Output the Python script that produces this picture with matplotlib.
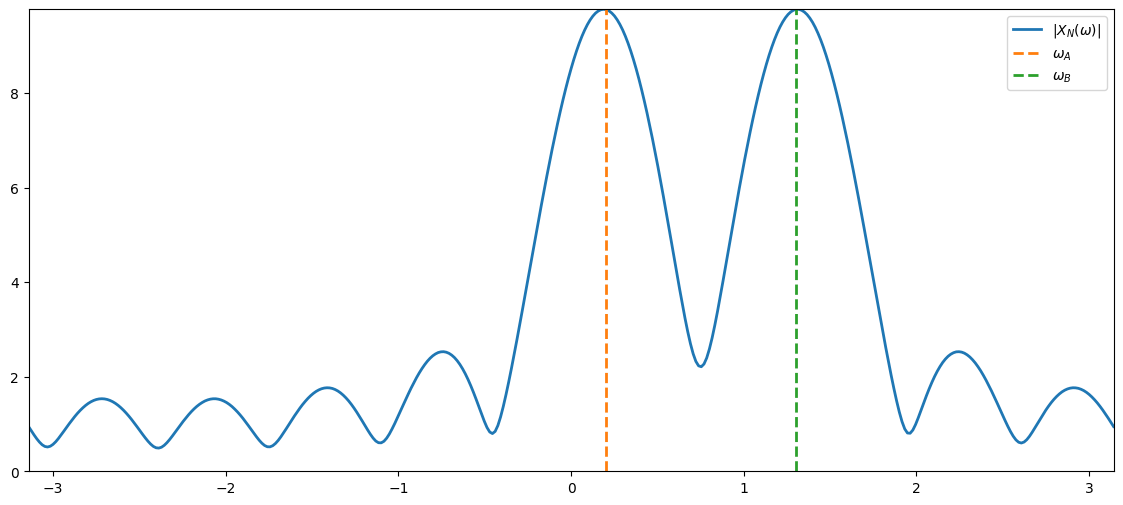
import numpy as np
import matplotlib
matplotlib.use("Agg")
import matplotlib.pyplot as plt

# Marker frequencies
omega_a = 0.2
omega_b = 1.3

# |X_N(omega)| in thousandths, read on an evenly spaced grid over [-pi, pi] (401 samples)
magnitude_milli = [
    946,857,770,689,618,561,525,514,530,569,625,694,770,849,929,1008,1084,1157,1225,1287,
    1343,1393,1436,1471,1499,1519,1531,1535,1531,1519,1499,1472,1437,1395,1346,1291,1230,1164,1093,1018,
    941,862,784,708,637,575,526,497,491,509,549,605,672,746,824,902,981,1057,1129,1198,
    1262,1320,1372,1417,1455,1487,1510,1526,1534,1534,1525,1509,1485,1454,1415,1369,1315,1256,1191,1121,
    1046,968,889,809,731,658,595,546,519,517,541,588,652,729,814,902,992,1082,1170,1254,
    1335,1411,1480,1544,1600,1649,1690,1722,1746,1761,1767,1764,1752,1730,1699,1659,1610,1553,1488,1415,
    1335,1249,1158,1064,968,873,783,703,640,604,602,635,700,789,896,1012,1136,1262,1389,1515,
    1638,1758,1871,1979,2079,2171,2254,2328,2391,2443,2483,2512,2527,2530,2519,2495,2457,2406,2340,2261,
    2168,2062,1943,1812,1671,1522,1366,1209,1059,926,831,798,844,967,1149,1371,1621,1891,2175,2471,
    2774,3084,3399,3717,4037,4357,4677,4995,5311,5622,5929,6229,6523,6809,7086,7354,7611,7857,8091,8312,
    8519,8713,8892,9056,9204,9335,9450,9548,9629,9693,9738,9766,9775,9767,9740,9695,9633,9552,9454,9339,
    9206,9057,8891,8709,8512,8300,8073,7832,7579,7312,7034,6746,6447,6139,5824,5502,5175,4845,4514,4184,
    3858,3541,3237,2954,2700,2486,2325,2231,2212,2270,2399,2589,2824,3095,3389,3701,4023,4351,4682,5013,
    5342,5666,5985,6296,6600,6893,7177,7449,7709,7956,8190,8409,8614,8804,8977,9135,9276,9400,9506,9595,
    9667,9720,9756,9773,9773,9754,9717,9663,9590,9501,9394,9270,9131,8975,8803,8617,8416,8201,7974,7734,
    7482,7219,6947,6665,6375,6078,5774,5465,5151,4834,4515,4195,3875,3556,3239,2926,2619,2320,2029,1752,
    1491,1254,1051,896,810,805,873,990,1134,1289,1446,1599,1744,1880,2005,2117,2216,2303,2375,2434,
    2478,2509,2527,2530,2521,2499,2464,2418,2360,2292,2213,2126,2029,1925,1814,1698,1576,1452,1325,1198,
    1073,952,840,742,664,614,598,619,669,741,827,921,1017,1112,1205,1293,1376,1453,1522,1583,
    1636,1681,1716,1742,1759,1767,1765,1755,1735,1707,1670,1625,1572,1512,1446,1373,1295,1212,1126,1037,
    946,
]

mag = np.array(magnitude_milli) / 1000.0
omega = np.linspace(-np.pi, np.pi, len(mag))

fig, ax = plt.subplots(figsize=(14, 6))
ax.plot(omega, mag, lw=2, label=r"$|X_N(\omega)|$")
ax.axvline(omega_a, color="C1", ls="--", lw=2, label=r"$\omega_A$")
ax.axvline(omega_b, color="C2", ls="--", lw=2, label=r"$\omega_B$")
ax.set_xlim(-np.pi, np.pi)
ax.set_ylim(0, mag.max())
ax.legend(loc="upper right")
fig.savefig("out.png", bbox_inches="tight")
